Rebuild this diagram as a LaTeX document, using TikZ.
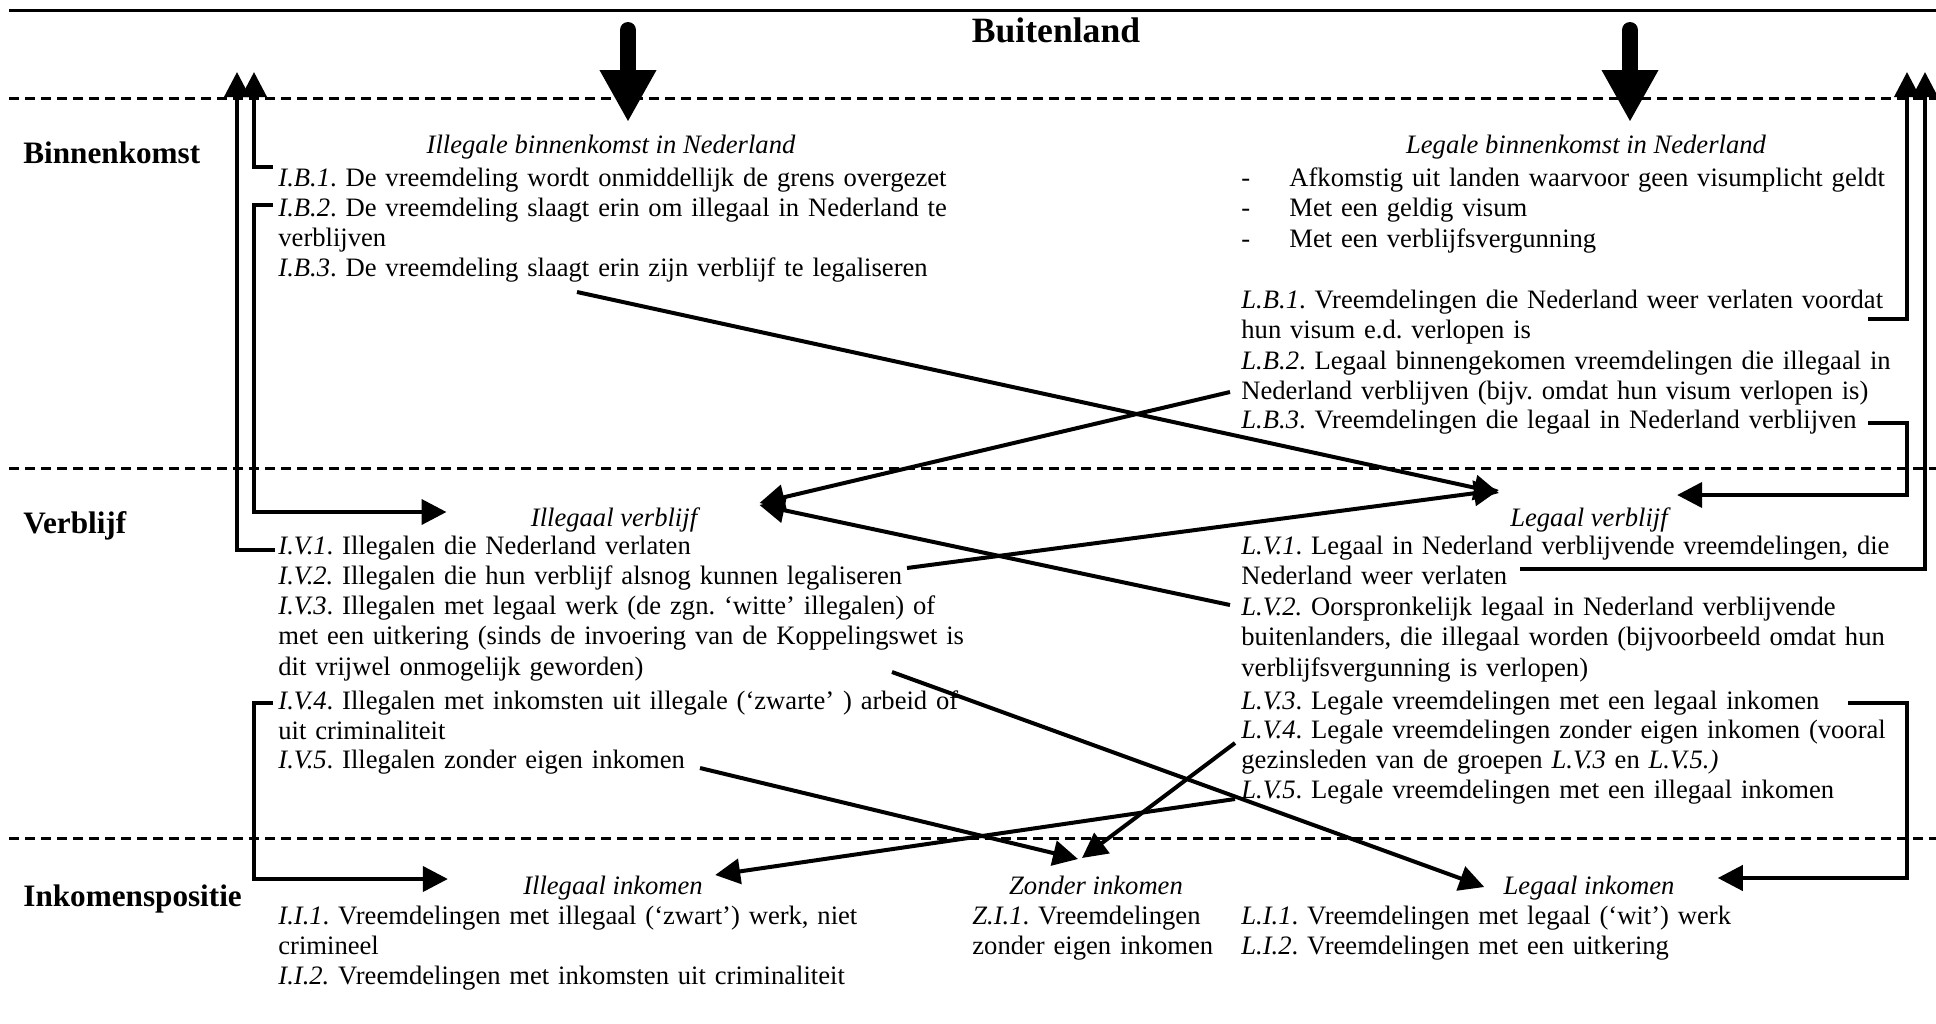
\documentclass[tikz,border=0pt]{standalone}
\usepackage{fontspec}
\setmainfont{Liberation Serif}
\usepackage{tikz}
\usetikzlibrary{arrows.meta}
\frenchspacing

\begin{document}
\begin{tikzpicture}[x=0.5pt,y=-0.5pt,
    item/.style={anchor=base west,inner sep=0pt,text width=380pt,align=left,font=\fontsize{13.3}{15.25}\selectfont},
    kop/.style={anchor=base,inner sep=0pt,font=\fontsize{13.3}{15.25}\selectfont\itshape},
    rij/.style={anchor=base west,inner sep=0pt,font=\fontsize{15.6}{18}\selectfont\bfseries},
    grens/.style={line width=1.5pt,dash pattern=on 5pt off 3pt},
    pijl/.style={line width=2pt,-{Triangle[length=12.5pt,width=12.5pt]}},
    dikpijl/.style={line width=8pt,line cap=round,-{Triangle[length=26pt,width=26.5pt]}}]
  \useasboundingbox (0,0) rectangle (1936,1023);

  \draw[line width=1.5pt] (9,10) -- (1936,10);
  \draw[grens] (9,98) -- (1936,98);
  \draw[grens] (9,468) -- (1936,468);
  \draw[grens] (9,838) -- (1936,838);

  \node[anchor=base,inner sep=0pt,font=\fontsize{17.8}{20}\selectfont\bfseries] (buitenland) at (1056,42) {Buitenland};
  \node[rij] (binnenkomst) at (23,163) {Binnenkomst};
  \node[rij] (verblijf) at (23,533) {Verblijf};
  \node[rij] (inkomens) at (23,906) {Inkomenspositie};

  \node[kop] (hib) at (611,153) {Illegale binnenkomst in Nederland};
  \node[item] (ib1) at (278,186) {\textit{I.B.1}. De vreemdeling wordt onmiddellijk de grens overgezet};
  \node[item] (ib2) at (278,216) {\textit{I.B.2}. De vreemdeling slaagt erin om illegaal in Nederland te\\ verblijven};
  \node[item] (ib3) at (278,276) {\textit{I.B.3}. De vreemdeling slaagt erin zijn verblijf te legaliseren};

  \node[kop] (hlb) at (1586,153) {Legale binnenkomst in Nederland};
  \node[item] (lbk) at (1241,186) {\makebox[24pt][l]{-}Afkomstig uit landen waarvoor geen visumplicht geldt\\
    \makebox[24pt][l]{-}Met een geldig visum\\
    \makebox[24pt][l]{-}Met een verblijfsvergunning};
  \node[item] (lb1) at (1241,308) {\textit{L.B.1}. Vreemdelingen die Nederland weer verlaten voordat\\ hun visum e.d. verlopen is};
  \node[item] (lb2) at (1241,369) {\textit{L.B.2}. Legaal binnengekomen vreemdelingen die illegaal in\\ Nederland verblijven (bijv. omdat hun visum verlopen is)};
  \node[item] (lb3) at (1241,428) {\textit{L.B.3}. Vreemdelingen die legaal in Nederland verblijven};

  \node[kop] (hiv) at (614,526) {Illegaal verblijf};
  \node[item] (iv1) at (278,554) {\textit{I.V.1}. Illegalen die Nederland verlaten};
  \node[item] (iv2) at (278,584) {\textit{I.V.2.} Illegalen die hun verblijf alsnog kunnen legaliseren};
  \node[item] (iv3) at (278,614) {\textit{I.V.3}. Illegalen met legaal werk (de zgn. ‘witte’ illegalen) of\\ met een uitkering (sinds de invoering van de Koppelingswet is\\ dit vrijwel onmogelijk geworden)};
  \node[item] (iv4) at (278,709) {\textit{I.V.4}. Illegalen met inkomsten uit illegale (‘zwarte’ ) arbeid of\\ uit criminaliteit};
  \node[item] (iv5) at (278,768) {\textit{I.V.5}. Illegalen zonder eigen inkomen};

  \node[kop] (hlv) at (1589,526) {Legaal verblijf};
  \node[item] (lv1) at (1241,554) {\textit{L.V.1}. Legaal in Nederland verblijvende vreemdelingen, die\\ Nederland weer verlaten};
  \node[item] (lv2) at (1241,615) {\textit{L.V.2.} Oorspronkelijk legaal in Nederland verblijvende\\ buitenlanders, die illegaal worden (bijvoorbeeld omdat hun\\ verblijfsvergunning is verlopen)};
  \node[item] (lv3) at (1241,709) {\textit{L.V.3}. Legale vreemdelingen met een legaal inkomen};
  \node[item] (lv4) at (1241,738) {\textit{L.V.4}. Legale vreemdelingen zonder eigen inkomen (vooral\\ gezinsleden van de groepen \textit{L.V.3} en \textit{L.V.5.)}};
  \node[item] (lv5) at (1241,798) {\textit{L.V.5}. Legale vreemdelingen met een illegaal inkomen};

  \node[kop] (hii) at (613,894) {Illegaal inkomen};
  \node[item] (ii1) at (278,924) {\textit{I.I.1}. Vreemdelingen met illegaal (‘zwart’) werk, niet\\ crimineel};
  \node[item] (ii2) at (278,984) {\textit{I.I.2.} Vreemdelingen met inkomsten uit criminaliteit};

  \node[kop] (hzi) at (1096,894) {Zonder inkomen};
  \node[item] (zi1) at (972,924) {\textit{Z.I.1}. Vreemdelingen\\ zonder eigen inkomen};

  \node[kop] (hli) at (1589,894) {Legaal inkomen};
  \node[item] (li1) at (1241,924) {\textit{L.I.1}. Vreemdelingen met legaal (‘wit’) werk};
  \node[item] (li2) at (1241,954) {\textit{L.I.2}. Vreemdelingen met een uitkering};

  \coordinate (uitL1) at (237,72);
  \coordinate (uitL2) at (254,72);
  \coordinate (uitR1) at (1907,72);
  \coordinate (uitR2) at (1925,72);
  \coordinate (inL) at (628,30);
  \coordinate (inR) at (1630,30);

  \draw[dikpijl] (inL) -- ([shift={(17,-31)}]hib.base);
  \draw[dikpijl] (inR) -- ([shift={(44,-31)}]hlb.base);

  \draw[pijl] ([shift={(-3,-4)}]iv1.base west) -| (uitL1);
  \draw[pijl] ([shift={(-5,-19)}]ib1.base west) -| (uitL2);
  \draw[pijl] ([shift={(-5,-11)}]ib2.base west) -- ++(-19,0) |- ([shift={(-84,-14)}]hiv.base west);
  \draw[pijl] ([shift={(-5,-6)}]iv4.base west) -- ++(-19,0) |- ([shift={(-75,-15)}]hii.base west);

  \draw[pijl] ([shift={(627,11)}]lb1.base west) -| (uitR1);
  \draw[pijl] ([shift={(279,15)}]lv1.base west) -| (uitR2);
  \draw[pijl] ([shift={(627,-5)}]lb3.base west) -- ++(39,0) |- ([shift={(9,-31)}]hlv.base east);
  \draw[pijl] ([shift={(607,-6)}]lv3.base west) -- ++(59,0) |- ([shift={(43,-16)}]hli.base east);

  \draw[pijl] ([shift={(299,16)}]ib3.base west) -- ([shift={(-11,-33)}]hlv.base west);
  \draw[pijl] ([shift={(629,-16)}]iv2.base west) -- ([shift={(-11,-36)}]hlv.base west);
  \draw[pijl] ([shift={(-11,23)}]lb2.base west) -- ([shift={(62,-23)}]hiv.base east);
  \draw[pijl] ([shift={(-11,-10)}]lv2.base west) -- ([shift={(62,-21)}]hiv.base east);
  \draw[pijl] ([shift={(614,58)}]iv3.base west) -- ([shift={(-19,-7)}]hli.base west);
  \draw[pijl] ([shift={(422,0)}]iv5.base west) -- ([shift={(-18,-35)}]hzi.base);
  \draw[pijl] ([shift={(-6,1)}]lv5.base west) -- ([shift={(12,-19)}]hii.base east);
  \draw[pijl] ([shift={(-6,5)}]lv4.base west) -- ([shift={(-14,-36)}]hzi.base);
\end{tikzpicture}
\end{document}
